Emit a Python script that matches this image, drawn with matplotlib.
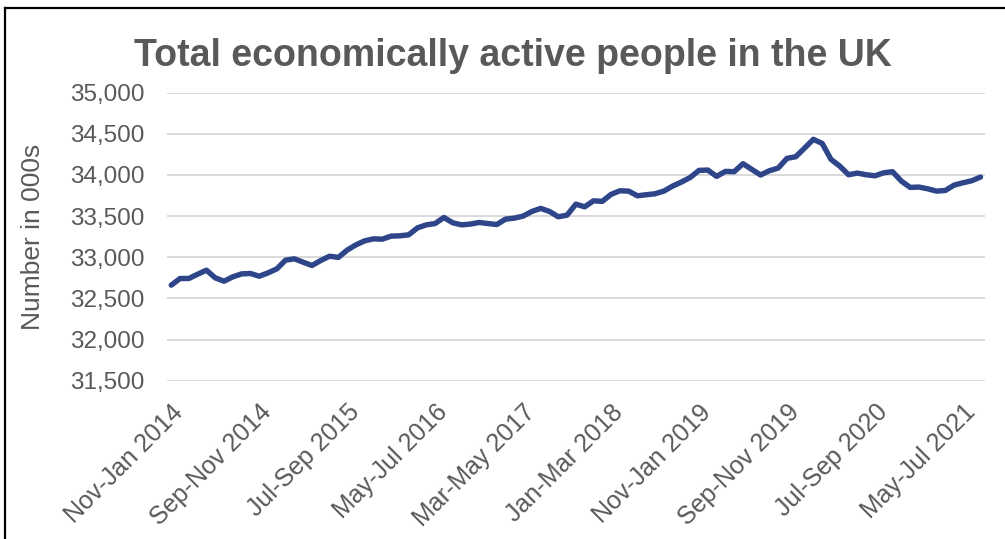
import numpy as np
import matplotlib.pyplot as plt
from matplotlib.lines import Line2D
from matplotlib.ticker import FuncFormatter

# Economically active people, thousands, rolling three-month periods
# from Nov-Jan 2014 to Jul-Sep 2021
active = [
    32661, 32742, 32742, 32794, 32843, 32750, 32709, 32762, 32798, 32803,
    32770, 32810, 32859, 32965, 32981, 32940, 32900, 32961, 33013, 32998,
    33087, 33151, 33200, 33224, 33220, 33257, 33261, 33273, 33358, 33394,
    33410, 33484, 33419, 33394, 33403, 33423, 33410, 33398, 33463, 33476,
    33500, 33557, 33594, 33557, 33492, 33512, 33646, 33613, 33686, 33680,
    33764, 33808, 33804, 33747, 33760, 33772, 33804, 33865, 33914, 33970,
    34056, 34060, 33983, 34044, 34040, 34137, 34068, 34000, 34052, 34084,
    34202, 34222, 34327, 34433, 34384, 34190, 34108, 34003, 34023, 34003,
    33990, 34027, 34040, 33926, 33849, 33853, 33832, 33804, 33812, 33877,
    33905, 33930, 33975,
]

tick_labels = [
    "Nov-Jan 2014", "Sep-Nov 2014", "Jul-Sep 2015", "May-Jul 2016",
    "Mar-May 2017", "Jan-Mar 2018", "Nov-Jan 2019", "Sep-Nov 2019",
    "Jul-Sep 2020", "May-Jul 2021",
]
tick_step = 10

grey = "#595959"
plt.rcParams["font.family"] = ["Liberation Sans", "DejaVu Sans"]

fig = plt.figure(figsize=(10.05, 5.39), dpi=100)
ax = fig.add_axes([0.166, 0.2937, 0.814, 0.5343])

x = np.arange(len(active))
ax.plot(x, active, color="#2e4589", linewidth=3.9, solid_capstyle="round",
        solid_joinstyle="round", zorder=3)

ax.set_xlim(-0.5, len(active) - 0.5)
ax.set_ylim(31500, 35000)
ax.set_yticks(np.arange(31500, 35001, 500))
ax.yaxis.set_major_formatter(FuncFormatter(lambda v, p: f"{v:,.0f}"))
ax.grid(axis="y", color="#d9d9d9", linewidth=1.4, zorder=0)
ax.set_axisbelow(True)
for side in ["top", "right", "left", "bottom"]:
    ax.spines[side].set_visible(False)

ax.set_xticks(x[::tick_step])
ax.set_xticklabels(tick_labels, rotation=45, ha="right",
                   rotation_mode="anchor", fontsize=18, color=grey)
ax.tick_params(axis="x", length=0, pad=14)
ax.tick_params(axis="y", length=0, pad=16, labelsize=17.5, labelcolor=grey)

ax.set_ylabel("Number in 000s", fontsize=19, color=grey)
ax.yaxis.set_label_coords(-0.149, 0.5)
fig.text(0.51, 0.897, "Total economically active people in the UK",
         ha="center", va="center", fontsize=27, fontweight="bold", color=grey)

# frame edges of the chart box
fig.add_artist(Line2D([5 / 1005, 5 / 1005], [0, 1 - 8 / 539],
                      transform=fig.transFigure, color="black", linewidth=1.6))
fig.add_artist(Line2D([5 / 1005, 1], [1 - 8 / 539, 1 - 8 / 539],
                      transform=fig.transFigure, color="black", linewidth=1.6))

fig.savefig("out.png", dpi=100)
